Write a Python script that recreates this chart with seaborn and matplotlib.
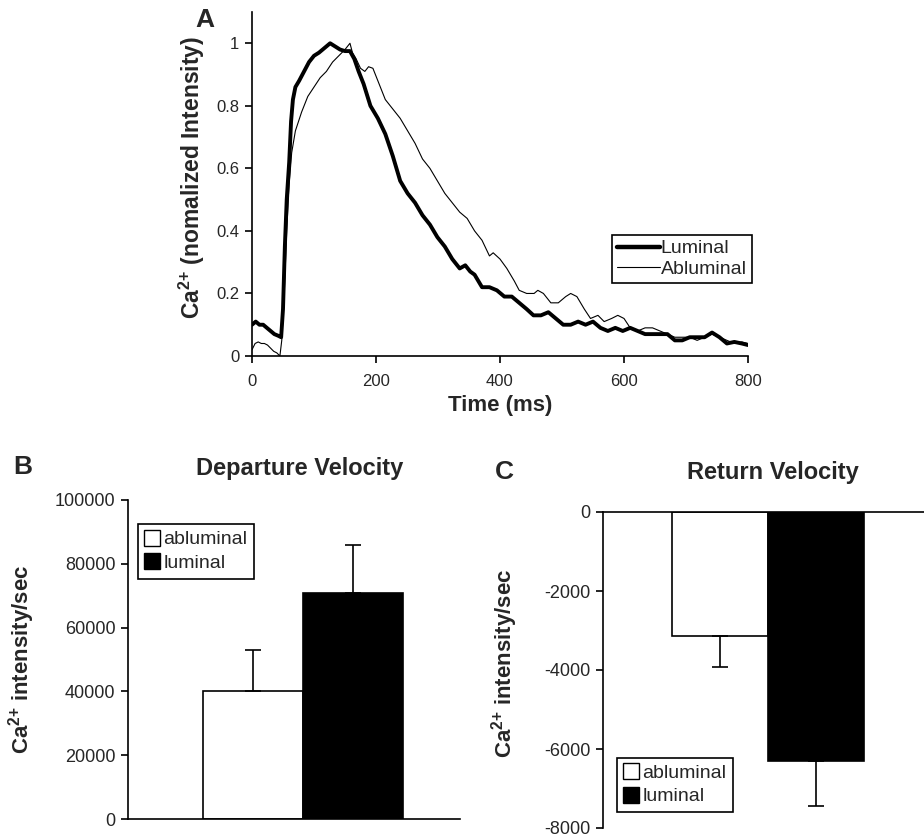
import pandas as pd
import matplotlib
matplotlib.use('Agg')
import matplotlib.pyplot as plt
from matplotlib.lines import Line2D
import seaborn as sns

# painel A - Ca2+ normalizado ao longo do tempo
tempo_lum = [0, 6, 12, 18, 24, 30, 36, 42, 47, 50, 53, 56, 60, 63, 66, 70, 76, 84, 92, 100,
             108, 114, 120, 126, 134, 142, 150, 158, 165, 172, 180, 191, 203, 215, 227, 239, 251,
             263, 275, 287, 299, 311, 323, 335, 344, 352, 359, 371, 383, 395, 407, 419, 431, 443,
             454, 466, 478, 490, 502, 514, 526, 538, 550, 562, 574, 586, 598, 610, 622, 634, 646,
             658, 670, 682, 694, 706, 718, 730, 742, 754, 766, 778, 790, 800]
lum = [0.10, 0.11, 0.10, 0.10, 0.09, 0.08, 0.07, 0.065, 0.06, 0.15, 0.35, 0.50, 0.62, 0.75, 0.82,
       0.86, 0.88, 0.91, 0.94, 0.96, 0.97, 0.98, 0.99, 1.0, 0.99, 0.98, 0.975, 0.975, 0.95, 0.91,
       0.87, 0.80, 0.76, 0.71, 0.64, 0.56, 0.52, 0.49, 0.45, 0.42, 0.38, 0.35, 0.31, 0.28, 0.29,
       0.27, 0.26, 0.22, 0.22, 0.21, 0.19, 0.19, 0.17, 0.15, 0.13, 0.13, 0.14, 0.12, 0.10, 0.10,
       0.11, 0.10, 0.11, 0.09, 0.08, 0.09, 0.08, 0.09, 0.08, 0.07, 0.07, 0.07, 0.07, 0.05, 0.05,
       0.06, 0.06, 0.06, 0.075, 0.06, 0.04, 0.045, 0.04, 0.035]

tempo_ab = [0, 5, 10, 15, 20, 25, 30, 35, 40, 45, 48, 52, 56, 60, 64, 70, 80, 90, 100, 110, 120,
            130, 140, 150, 158, 162, 168, 175, 182, 188, 195, 203, 215, 227, 239, 251, 263, 275,
            287, 299, 311, 323, 335, 347, 359, 371, 383, 389, 400, 411, 423, 431, 443, 455, 461,
            470, 482, 494, 506, 514, 524, 536, 546, 558, 568, 580, 590, 600, 610, 622, 634, 646,
            658, 670, 682, 694, 706, 718, 730, 742, 754, 766, 778, 790, 800]
ab = [0.02, 0.04, 0.045, 0.04, 0.04, 0.035, 0.025, 0.015, 0.01, 0.0, 0.05, 0.20, 0.40, 0.55,
      0.65, 0.72, 0.78, 0.83, 0.86, 0.89, 0.91, 0.94, 0.96, 0.98, 1.0, 0.97, 0.95, 0.92, 0.91,
      0.925, 0.92, 0.88, 0.82, 0.79, 0.76, 0.72, 0.68, 0.63, 0.60, 0.56, 0.52, 0.49, 0.46, 0.44,
      0.40, 0.37, 0.32, 0.33, 0.31, 0.28, 0.24, 0.21, 0.20, 0.20, 0.21, 0.20, 0.17, 0.17, 0.19,
      0.20, 0.19, 0.15, 0.12, 0.13, 0.11, 0.12, 0.13, 0.12, 0.09, 0.08, 0.09, 0.09, 0.08, 0.07,
      0.06, 0.06, 0.06, 0.05, 0.06, 0.07, 0.06, 0.05, 0.04, 0.045, 0.04]

# paineis B e C - velocidades
grupos = ['abluminal', 'luminal']
partida = [40000, 71000]
partida_err = [13000, 15000]
retorno = [-3150, -6300]
retorno_err = [780, 1150]

a_xticks = [0, 200, 400, 600, 800]
a_yticks = [0, 0.2, 0.4, 0.6, 0.8, 1]
a_ylabels = ['0', '0.2', '0.4', '0.6', '0.8', '1']
b_yticks = [0, 20000, 40000, 60000, 80000, 100000]
c_yticks = [-8000, -6000, -4000, -2000, 0]

sns.set_style('ticks')
plt.rcParams['font.family'] = ['Liberation Sans', 'DejaVu Sans']
plt.rcParams['mathtext.fontset'] = 'custom'
plt.rcParams['mathtext.rm'] = 'Liberation Sans'
plt.rcParams['mathtext.bf'] = 'Liberation Sans:bold'
plt.rcParams['axes.unicode_minus'] = False

fig = plt.figure(figsize=(9.24, 8.4), dpi=100)
W, H = 924, 840

ca = r'Ca$^{\mathbf{2}{\mathbf{+}}}$'


def eixo(x0, x1, y_top, y_bot):
    return fig.add_axes([x0 / W, 1 - y_bot / H, (x1 - x0) / W, (y_bot - y_top) / H])


def estilo(ax, fs):
    for s in ax.spines.values():
        s.set_color('black')
        s.set_linewidth(1.2)
    ax.tick_params(axis='y', direction='out', length=5, width=1.2, color='black', labelsize=fs, pad=4)
    ax.set_facecolor('white')


# ---- A ----
axA = eixo(252, 748, 12, 356)
sns.lineplot(x=tempo_ab, y=ab, ax=axA, color='black', linewidth=0.8, label='Abluminal')
sns.lineplot(x=tempo_lum, y=lum, ax=axA, color='black', linewidth=2.8, label='Luminal')
axA.set_xlim(0, 800)
axA.set_ylim(0, 1.1)
axA.set_xticks(a_xticks)
axA.set_xticklabels([str(t) for t in a_xticks])
axA.set_yticks(a_yticks)
axA.set_yticklabels(a_ylabels)
sns.despine(ax=axA)
estilo(axA, 12)
axA.tick_params(axis='x', direction='out', length=5, width=1.2, color='black', labelsize=12, pad=8)
axA.set_xlabel('Time (ms)', fontsize=16, fontweight='bold')
axA.xaxis.set_label_coords(0.5, -0.112)
axA.set_ylabel(ca + ' (nomalized Intensity)', fontsize=16.5, fontweight='bold')
axA.yaxis.set_label_coords(-0.09, 0.52)
hA = [Line2D([], [], color='black', linewidth=3.2), Line2D([], [], color='black', linewidth=0.8)]
legA = axA.legend(hA, ['Luminal', 'Abluminal'], loc='upper left', bbox_to_anchor=(0.726, 0.352),
                  borderaxespad=0, fontsize=14, frameon=True, fancybox=False, edgecolor='black',
                  framealpha=1, handlelength=2.2, handletextpad=0.05, labelspacing=0.15,
                  borderpad=0.25)
legA.get_frame().set_linewidth(1.2)


def barras(ax, valores, erros, pra_cima):
    df = pd.DataFrame({'g': ['', ''], 'tipo': grupos, 'v': valores})
    sns.barplot(data=df, x='g', y='v', hue='tipo', hue_order=grupos, palette=['white', 'black'],
                edgecolor='black', linewidth=1.2, width=0.8, errorbar=None, legend=False, ax=ax)
    for cont, e in zip(ax.containers, erros):
        b = cont[0]
        xc = b.get_x() + b.get_width() / 2
        yc = b.get_height()
        yerr = [[0], [e]] if pra_cima else [[e], [0]]
        ax.errorbar(xc, yc, yerr=yerr, fmt='none', ecolor='black', elinewidth=1.2,
                    capsize=6, capthick=1.2, zorder=5)
    ax.set_xlabel('')
    ax.set_xticks([])


def legenda_q(ax, loc, anchor):
    hs = [Line2D([], [], marker='s', linestyle='none', markersize=11, markerfacecolor=c,
                 markeredgecolor='black', markeredgewidth=1) for c in ['white', 'black']]
    lg = ax.legend(hs, grupos, loc=loc, bbox_to_anchor=anchor, borderaxespad=0, fontsize=14,
                   frameon=True, fancybox=False, edgecolor='black', framealpha=1,
                   handlelength=0.7, handletextpad=0.25, labelspacing=0.3, borderpad=0.35)
    lg.get_frame().set_linewidth(1.2)


# ---- B ----
axB = eixo(128, 460, 500, 819)
barras(axB, partida, partida_err, True)
axB.set_xlim(-0.7, 0.628)
axB.set_ylim(0, 100000)
axB.set_yticks(b_yticks)
axB.set_yticklabels([str(t) for t in b_yticks])
sns.despine(ax=axB)
estilo(axB, 13)
axB.set_ylabel(ca + ' intensity/sec', fontsize=16, fontweight='bold')
axB.yaxis.set_label_coords(-0.274, 0.5)
legenda_q(axB, 'upper left', (0.03, 0.925))

# ---- C ----
axC = eixo(603, 924, 512, 828)
barras(axC, retorno, retorno_err, False)
axC.set_xlim(-0.6875, 0.65)
axC.set_ylim(-8000, 0)
axC.set_yticks(c_yticks)
axC.set_yticklabels([str(t) for t in c_yticks])
axC.spines['right'].set_visible(False)
axC.spines['bottom'].set_visible(False)
estilo(axC, 13)
axC.set_ylabel(ca + ' intensity/sec', fontsize=16, fontweight='bold')
axC.yaxis.set_label_coords(-0.259, 0.52)
legenda_q(axC, 'lower left', (0.044, 0.05))

# titulos e letras
fig.text(300 / W, 1 - 468 / H, 'Departure Velocity', ha='center', va='center', fontsize=17, fontweight='bold')
fig.text(773 / W, 1 - 473 / H, 'Return Velocity', ha='center', va='center', fontsize=17, fontweight='bold')
fig.text(205 / W, 1 - 20 / H, 'A', ha='center', va='center', fontsize=19, fontweight='bold')
fig.text(23 / W, 1 - 467 / H, 'B', ha='center', va='center', fontsize=19, fontweight='bold')
fig.text(504 / W, 1 - 472 / H, 'C', ha='center', va='center', fontsize=19, fontweight='bold')

fig.savefig('out.png', dpi=100, facecolor='white')
